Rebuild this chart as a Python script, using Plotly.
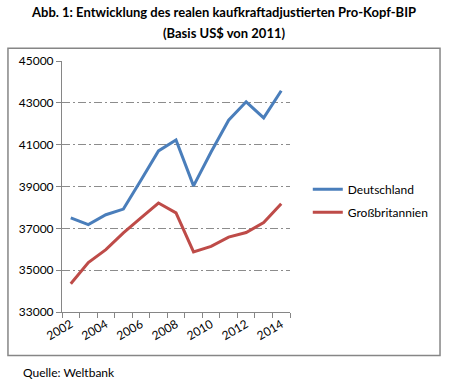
import plotly.graph_objects as go

years = list(range(2002, 2015))
deutschland = [37500, 37180, 37650, 37920, 39300, 40700, 41220, 39030, 40650, 42170, 43050, 42280, 43580]
grossbritannien = [34350, 35360, 35980, 36780, 37500, 38210, 37740, 35870, 36140, 36580, 36800, 37280, 38180]
y_ticks = [33000, 35000, 37000, 39000, 41000, 43000, 45000]
x_ticks = [2002, 2004, 2006, 2008, 2010, 2012, 2014]
title_lines = ["Abb. 1: Entwicklung des realen kaufkraftadjustierten Pro-Kopf-BIP", "(Basis US$ von 2011)"]

FONT = "Lato"
fig = go.Figure()
fig.add_trace(go.Scatter(x=years, y=deutschland, mode="lines", name="Deutschland",
                         legendgroup="de", line=dict(color="#4A7EBB", width=3)))
fig.add_trace(go.Scatter(x=years, y=grossbritannien, mode="lines", name="Großbritannien",
                         legendgroup="gb", line=dict(color="#BE4B48", width=3)))

ann = [dict(text="<b>%s</b>" % t, xref="paper", yref="paper", x=0.71, y=yy,
            xanchor="center", yanchor="middle", showarrow=False,
            font=dict(family=FONT, size=13, color="#000000"))
       for t, yy in zip(title_lines, [1.196, 1.113])]
ann.append(dict(text="Quelle: Weltbank", xref="paper", yref="paper",
                x=-0.18, y=-0.24, xanchor="left", yanchor="middle", showarrow=False,
                font=dict(family=FONT, size=12, color="#000000")))

fig.update_layout(
    width=449, height=381,
    margin=dict(l=62, r=159, t=61, b=69),
    paper_bgcolor="white", plot_bgcolor="white",
    font=dict(family=FONT, size=12, color="#000000"),
    showlegend=True,
    legend=dict(x=1.078, y=0.443, xanchor="left", yanchor="middle",
                font=dict(family=FONT, size=12, color="#000000"),
                itemwidth=30, tracegroupgap=4, bgcolor="rgba(0,0,0,0)"),
    xaxis=dict(range=[2001.5, 2014.5], tickvals=x_ticks, ticktext=[str(v) for v in x_ticks],
               tickangle=-30, ticks="", showgrid=False, zeroline=False,
               showline=True, linecolor="#868686", linewidth=1,
               tickfont=dict(family=FONT, size=12, color="#000000"),
               minor=dict(tickvals=[y + 0.5 for y in range(2001, 2015)], ticks="outside",
                          ticklen=5, tickcolor="#868686", showgrid=False)),
    yaxis=dict(range=[33000, 45000], tickvals=y_ticks, ticktext=[str(v) for v in y_ticks],
               ticks="outside", ticklen=5,
               tickcolor="#868686", showline=True, linecolor="#868686", linewidth=1,
               showgrid=True, gridcolor="#8c8c8c", gridwidth=1, griddash="8px,3px,2px,3px",
               zeroline=False, tickfont=dict(family=FONT, size=12, color="#000000")),
    shapes=[dict(type="rect", xref="paper", yref="paper", x0=-0.237, x1=1.658,
                 y0=-0.173, y1=1.051, line=dict(color="#868686", width=1.5),
                 fillcolor="rgba(0,0,0,0)", layer="below")],
    annotations=ann,
)
fig.write_html("out.html", config={"displayModeBar": False},
               post_script="document.body.style.margin='0';document.body.style.overflow='hidden';")
